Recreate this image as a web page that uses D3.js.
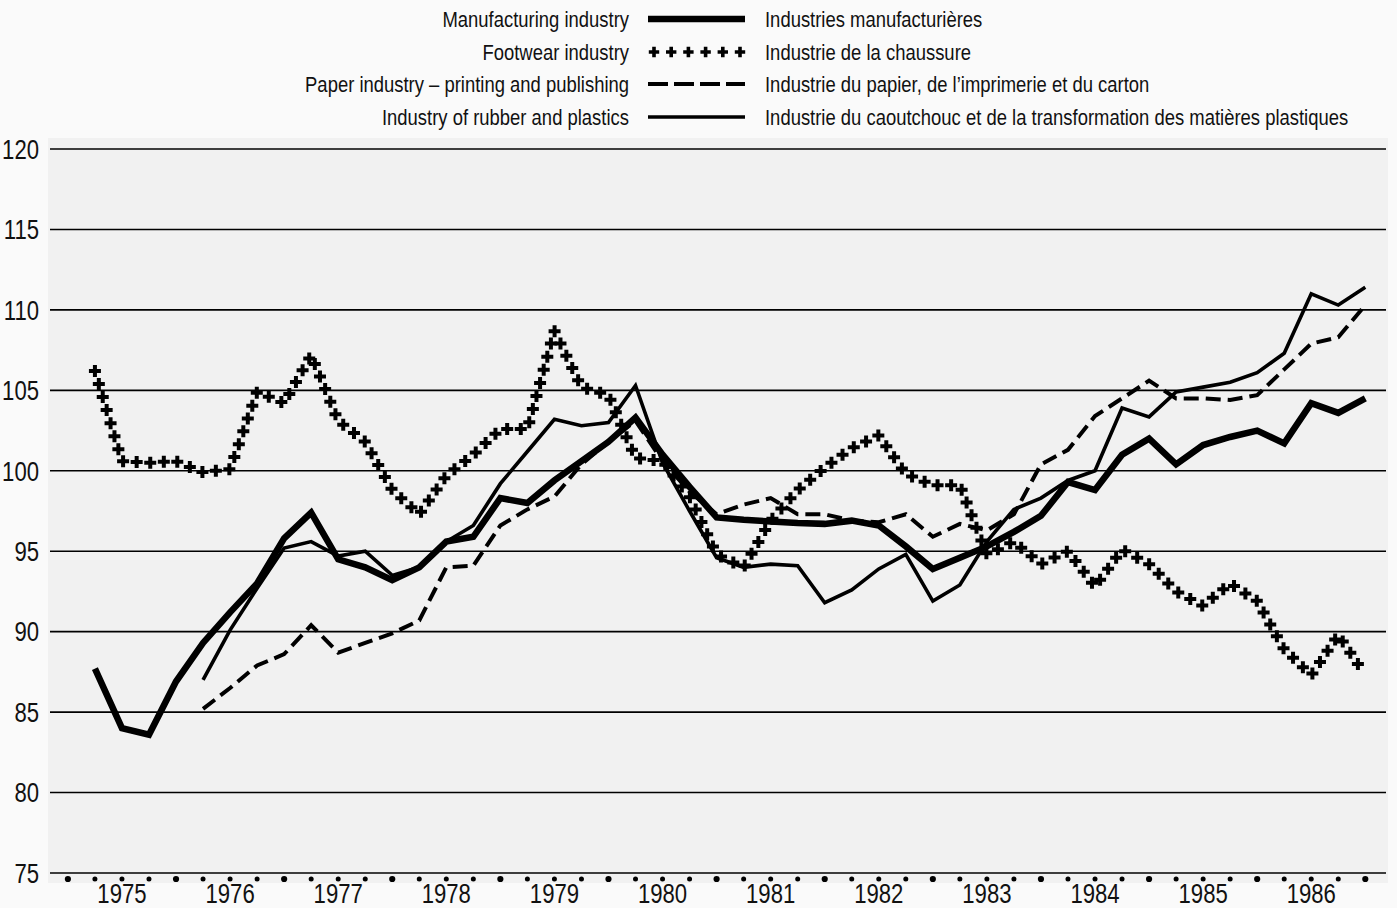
<!DOCTYPE html>
<html>
<head>
<meta charset="utf-8">
<script src="https://cdn.jsdelivr.net/npm/d3@7"></script>
<style>
  html, body { margin: 0; padding: 0; background: #fafafa; }
  svg { display: block; }
  text { font-family: "Liberation Sans", Arial, Helvetica, sans-serif; fill: #111; }
</style>
</head>
<body>
<svg id="chart" width="1397" height="908"></svg>
<script>
// Quarterly indices, 1975 Q1 – 1986 Q4 (period 1 = 1975 Q1 … 48 = 1986 Q4)
const years = [1975, 1976, 1977, 1978, 1979, 1980, 1981, 1982, 1983, 1984, 1985, 1986];
const yTicks = [75, 80, 85, 90, 95, 100, 105, 110, 115, 120];

// Manufacturing industry, from 1975 Q1
const manufacturing = [
  87.7, 84.0, 83.6, 86.9,  89.3, 91.2, 93.0, 95.8,  97.4, 94.5, 94.0, 93.2,
  94.0, 95.6, 95.9, 98.3,  98.0, 99.4, 100.6, 101.8, 103.3, 101.0, 99.0, 97.1,
  96.95, 96.85, 96.75, 96.7, 96.9, 96.6, 95.3, 93.9, 94.6, 95.3, 96.2, 97.2,
  99.3, 98.8, 101.0, 102.0, 100.4, 101.6, 102.1, 102.5, 101.7, 104.2, 103.6, 104.5
];
// Footwear industry, from 1975 Q1
const footwear = [
  106.2, 100.6, 100.5, 100.6, 99.9, 100.1, 104.9, 104.2, 107.2, 103.1, 101.8, 98.8,
  97.3, 99.7, 101.0, 102.6, 102.6, 108.7, 105.2, 104.7, 100.8, 100.6, 98.4, 94.8,
  94.0, 96.9, 98.8, 100.2, 101.4, 102.2, 99.8, 99.1, 99.1, 94.8, 95.6, 94.2,
  95.0, 92.8, 95.1, 94.2, 92.5, 91.6, 93.0, 91.9, 88.9, 87.3, 89.8, 87.3
];
// Paper industry – printing and publishing, from 1976 Q1
const paper = [
  85.2, 86.5, 87.9, 88.6, 90.4, 88.7, 89.3, 89.9,
  90.7, 94.0, 94.1, 96.6, 97.6, 98.4, 100.4, 101.8, 103.1, 100.6, 98.7, 97.3,
  97.9, 98.3, 97.3, 97.3, 96.9, 96.8, 97.3, 95.9, 96.7, 96.3, 97.3, 100.4,
  101.3, 103.4, 104.5, 105.6, 104.5, 104.5, 104.4, 104.7, 106.3, 107.9, 108.3, 110.3
];
// Industry of rubber and plastics, from 1976 Q1
const rubber = [
  87.0, 90.1, 92.7, 95.2, 95.6, 94.7, 95.0, 93.5,
  94.0, 95.6, 96.6, 99.2, 101.2, 103.2, 102.8, 103.0, 105.3, 100.5, 97.5, 94.6,
  94.0, 94.2, 94.1, 91.8, 92.6, 93.9, 94.8, 91.9, 92.9, 95.6, 97.6, 98.3,
  99.4, 100.0, 103.9, 103.35, 104.9, 105.2, 105.5, 106.1, 107.3, 111.0, 110.3, 111.4
];

const legendEn = ["Manufacturing industry", "Footwear industry",
  "Paper industry – printing and publishing", "Industry of rubber and plastics"];
const legendFr = ["Industries manufacturières", "Industrie de la chaussure",
  "Industrie du papier, de l’imprimerie et du carton",
  "Industrie du caoutchouc et de la transformation des matières plastiques"];

const svg = d3.select("#chart");
const W = 1397, H = 908;
const NARROW = 0.82; // horizontal squeeze for a condensed face

const x = d3.scaleLinear().domain([0, 48]).range([67.9, 1365.3]);
const y = d3.scaleLinear().domain([75, 120]).range([873, 149]);

// condensed text placed at (px, py)
function label(sel, px, py, size, anchor) {
  return sel.attr("transform", (d, i) => `translate(${px(d, i)},${py(d, i)}) scale(${NARROW},1)`)
    .attr("x", 0).attr("y", 0).attr("dy", "0.36em")
    .attr("font-size", size).attr("text-anchor", anchor);
}

// backgrounds
svg.append("rect").attr("x", 0).attr("y", 0).attr("width", W).attr("height", H).attr("fill", "#fafafa");
svg.append("rect").attr("x", 48).attr("y", 138).attr("width", 1340).attr("height", 745).attr("fill", "#f1f1f1");

// horizontal grid
svg.append("g").selectAll("line").data(yTicks).join("line")
  .attr("x1", 50).attr("x2", 1386)
  .attr("y1", d => y(d)).attr("y2", d => y(d))
  .attr("stroke", "#000").attr("stroke-width", 1.6);

// y labels
label(svg.append("g").selectAll("text").data(yTicks).join("text"),
  () => 39, d => y(d), 27, "end").text(d => d);

// quarter dots under the axis
svg.append("g").selectAll("circle").data(d3.range(0, 49)).join("circle")
  .attr("cx", d => x(d)).attr("cy", 879)
  .attr("r", d => d % 4 === 0 ? 3.1 : 2.5)
  .attr("fill", "#000");

// year labels centred in each year
label(svg.append("g").selectAll("text").data(years).join("text"),
  (d, i) => x(i * 4 + 2), () => 893, 27, "middle").text(d => d);

// series
const toPts = (arr, start) => arr.map((v, i) => [start + i, v]);
const line = d3.line().x(d => x(d[0])).y(d => y(d[1]));
const plot = svg.append("g");

plot.append("path").datum(toPts(paper, 5)).attr("d", line)
  .attr("fill", "none").attr("stroke", "#000").attr("stroke-width", 4)
  .attr("stroke-dasharray", "15,7").attr("stroke-linejoin", "miter");

plot.append("path").datum(toPts(rubber, 5)).attr("d", line)
  .attr("fill", "none").attr("stroke", "#000").attr("stroke-width", 3.6)
  .attr("stroke-linejoin", "miter");

plot.append("path").datum(toPts(manufacturing, 1)).attr("d", line)
  .attr("fill", "none").attr("stroke", "#000").attr("stroke-width", 6.5)
  .attr("stroke-linejoin", "miter").attr("stroke-miterlimit", 3);

// footwear: crosses spaced evenly along the series path
const crossPath = s => `M${-s},0H${s}M0,${-s}V${s}`;
const fwPath = plot.append("path").datum(toPts(footwear, 1)).attr("d", line)
  .attr("fill", "none").attr("stroke", "none");
const node = fwPath.node();
const total = node.getTotalLength();
const step = 13.6;
const crossPts = d3.range(0, total + 0.01, step).map(l => node.getPointAtLength(l));
plot.append("g").selectAll("path").data(crossPts).join("path")
  .attr("transform", p => `translate(${p.x},${p.y})`)
  .attr("d", crossPath(6))
  .attr("stroke", "#000").attr("stroke-width", 4).attr("fill", "none");

// legend
const rows = [19, 52, 84, 117];
const lg = svg.append("g");
label(lg.selectAll("text.en").data(legendEn).join("text").attr("class", "en"),
  () => 629, (d, i) => rows[i], 22.5, "end").text(d => d);
label(lg.selectAll("text.fr").data(legendFr).join("text").attr("class", "fr"),
  () => 765, (d, i) => rows[i], 22.5, "start").text(d => d);

lg.append("line").attr("x1", 648).attr("x2", 745).attr("y1", rows[0]).attr("y2", rows[0])
  .attr("stroke", "#000").attr("stroke-width", 6.5);
lg.append("g").selectAll("path").data(d3.range(6)).join("path")
  .attr("transform", i => `translate(${654 + i * 17.2},${rows[1]})`)
  .attr("d", crossPath(5.2)).attr("stroke", "#000").attr("stroke-width", 3.6).attr("fill", "none");
lg.append("line").attr("x1", 648).attr("x2", 745).attr("y1", rows[2]).attr("y2", rows[2])
  .attr("stroke", "#000").attr("stroke-width", 4).attr("stroke-dasharray", "20,6");
lg.append("line").attr("x1", 648).attr("x2", 745).attr("y1", rows[3]).attr("y2", rows[3])
  .attr("stroke", "#000").attr("stroke-width", 3.6);
</script>
</body>
</html>
